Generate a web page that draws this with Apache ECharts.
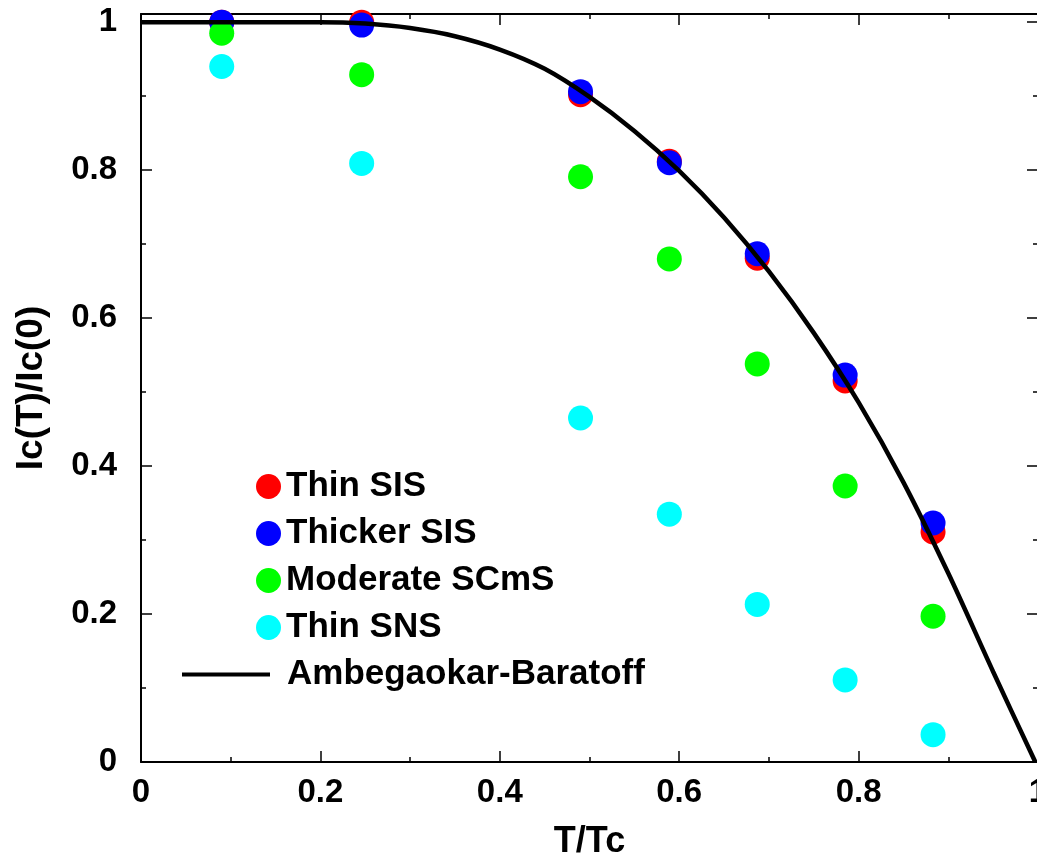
<!DOCTYPE html>
<html>
<head>
<meta charset="utf-8">
<script src="https://cdn.jsdelivr.net/npm/echarts@6/dist/echarts.min.js"></script>
<style>
  html, body { margin: 0; padding: 0; background: #fff; overflow: hidden; }
  #chart { width: 1037px; height: 856px; }
</style>
</head>
<body>
<div id="chart"></div>
<script>
// Reduced temperature of each measurement
const tOverTc = [0.09, 0.246, 0.49, 0.589, 0.687, 0.785, 0.883];

// Normalised critical current Ic(T)/Ic(0) for each junction type
const thinSIS      = [1.000, 1.000, 0.902, 0.812, 0.681, 0.515, 0.311];
const thickerSIS   = [1.000, 0.996, 0.906, 0.810, 0.687, 0.523, 0.323];
const moderateSCmS = [0.985, 0.929, 0.791, 0.680, 0.538, 0.373, 0.197];
const thinSNS      = [0.940, 0.809, 0.465, 0.335, 0.213, 0.111, 0.037];

// Ambegaokar-Baratoff curve, sampled along T/Tc
const abT  = [0, 0.1, 0.2, 0.25, 0.3, 0.35, 0.4, 0.45, 0.5, 0.55, 0.6, 0.65, 0.7, 0.75, 0.8, 0.85, 0.9, 0.95, 0.997];
const abIc = [1.0, 1.0, 1.0, 0.998, 0.992, 0.981, 0.963, 0.937, 0.899, 0.853, 0.799, 0.736, 0.663, 0.58, 0.486, 0.378, 0.255, 0.122, 0.0];

// Axis tick labels
const xTicks = ['0', '0.2', '0.4', '0.6', '0.8', '1'];
const yTicks = ['0', '0.2', '0.4', '0.6', '0.8', '1'];

const pairs = (xs, ys) => xs.map((x, i) => [x, ys[i]]);

const FONT = '"Liberation Sans", Arial, Helvetica, sans-serif';
const AXIS_LINE = { show: true, onZero: false, lineStyle: { color: '#000', width: 2 } };
const TICK = { show: true, inside: true, length: 11, lineStyle: { color: '#000', width: 1.5 } };
const MINOR = { show: true, splitNumber: 2, length: 5, lineStyle: { color: '#000', width: 1.5 } };

function tickText(list) {
  return function (v) {
    const s = String(+v.toFixed(3));
    return list.indexOf(s) >= 0 ? s : '';
  };
}

const chart = echarts.init(document.getElementById('chart'), null, { renderer: 'canvas' });

const scatterSeries = (name, color, ys) => ({
  name: name,
  type: 'scatter',
  symbol: 'circle',
  symbolSize: 25,
  itemStyle: { color: color, opacity: 1 },
  data: pairs(tOverTc, ys),
  z: 2
});

const legendText = { color: '#000', fontFamily: FONT, fontWeight: 'bold', fontSize: 35, lineHeight: 30 };

chart.setOption({
  backgroundColor: '#fff',
  animation: false,
  grid: { left: 141, top: 14, right: -1, bottom: 94, containLabel: false, outerBoundsMode: 'none' },
  xAxis: [
    {
      type: 'value', position: 'bottom', min: 0, max: 1, interval: 0.2,
      axisLine: AXIS_LINE, axisTick: TICK, minorTick: MINOR, splitLine: { show: false },
      axisLabel: { color: '#000', fontFamily: FONT, fontWeight: 'bold', fontSize: 33, margin: 14, formatter: tickText(xTicks) },
      name: 'T/Tc', nameLocation: 'middle', nameGap: 62,
      nameTextStyle: { color: '#000', fontFamily: FONT, fontWeight: 'bold', fontSize: 36 }
    },
    {
      type: 'value', position: 'top', min: 0, max: 1, interval: 0.2,
      axisLine: AXIS_LINE, axisTick: TICK, minorTick: MINOR, splitLine: { show: false },
      axisLabel: { show: false }
    }
  ],
  yAxis: [
    {
      type: 'value', position: 'left', min: 0, max: 1.011, interval: 0.2,
      axisLine: AXIS_LINE, axisTick: TICK, minorTick: MINOR, splitLine: { show: false },
      axisLabel: { color: '#000', fontFamily: FONT, fontWeight: 'bold', fontSize: 33, margin: 24, formatter: tickText(yTicks) },
      name: 'Ic(T)/Ic(0)', nameLocation: 'middle', nameGap: 91,
      nameTextStyle: { color: '#000', fontFamily: FONT, fontWeight: 'bold', fontSize: 37 }
    },
    {
      type: 'value', position: 'right', min: 0, max: 1.011, interval: 0.2,
      axisLine: AXIS_LINE, axisTick: TICK, minorTick: MINOR, splitLine: { show: false },
      axisLabel: { show: false }
    }
  ],
  legend: [
    {
      data: ['Thin SIS', 'Thicker SIS', 'Moderate SCmS', 'Thin SNS'],
      orient: 'vertical', left: 251, top: 464,
      itemWidth: 25, itemHeight: 25, itemGap: 12,
      icon: 'circle',
      textStyle: legendText,
      selectedMode: false
    },
    {
      data: ['Ambegaokar-Baratoff'],
      orient: 'vertical', left: 177, top: 652,
      itemWidth: 88, itemHeight: 4,
      icon: 'rect',
      itemStyle: { color: '#000' },
      textStyle: Object.assign({}, legendText, { padding: [0, 0, 0, 12] }),
      selectedMode: false
    }
  ],
  series: [
    scatterSeries('Thin SIS', '#ff0000', thinSIS),
    scatterSeries('Thicker SIS', '#0000ff', thickerSIS),
    scatterSeries('Moderate SCmS', '#00ff00', moderateSCmS),
    scatterSeries('Thin SNS', '#00ffff', thinSNS),
    {
      name: 'Ambegaokar-Baratoff',
      type: 'line',
      data: pairs(abT, abIc),
      smooth: 0.3,
      symbol: 'none',
      showSymbol: false,
      lineStyle: { color: '#000', width: 4.5 },
      itemStyle: { color: '#000' },
      clip: false,
      z: 3
    }
  ]
});
</script>
</body>
</html>
